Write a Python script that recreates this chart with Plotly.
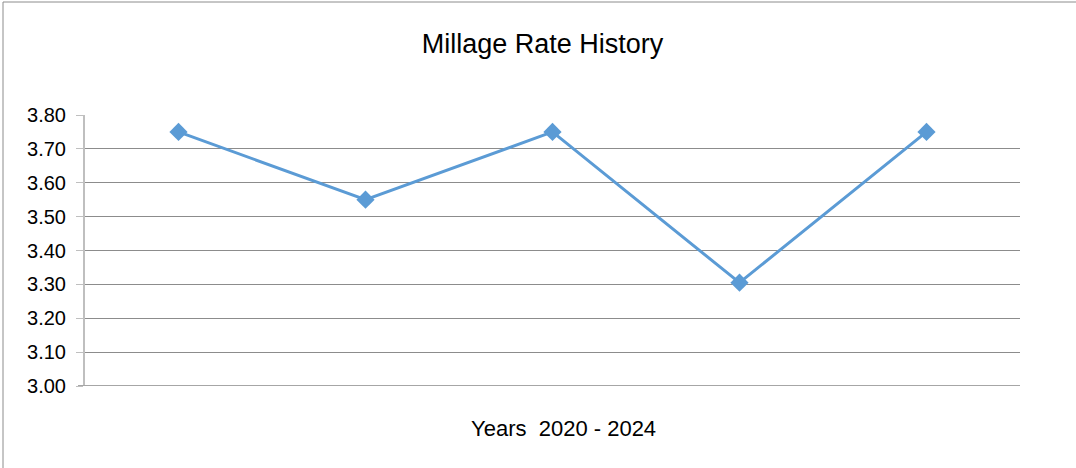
import plotly.graph_objects as go

years = ["2020", "2021", "2022", "2023", "2024"]
rates = [3.75, 3.55, 3.75, 3.305, 3.75]
y_ticks = [3.00, 3.10, 3.20, 3.30, 3.40, 3.50, 3.60, 3.70, 3.80]

W, H = 1076, 468
L, R, T, B = 85, 56, 115, 82
pw, ph = W - L - R, H - T - B

fig = go.Figure()
fig.add_trace(go.Scatter(
    x=years, y=rates, mode="lines+markers",
    line=dict(color="#5B9BD5", width=3),
    marker=dict(symbol="diamond", size=14, color="#5B9BD5"),
    hoverinfo="x+y", showlegend=False,
))

fig.update_layout(
    width=W, height=H,
    margin=dict(l=L, r=R, t=T, b=B),
    paper_bgcolor="white", plot_bgcolor="white",
    font=dict(family="Liberation Sans, Arial, sans-serif", color="#000000"),
    title=dict(text="Millage Rate History", x=542.5 / W, xanchor="center",
               y=1 - 44 / H, yanchor="middle",
               font=dict(size=27, color="#000000")),
    xaxis=dict(
        type="category", range=[-0.5, len(years) - 0.5],
        showticklabels=False, ticks="",
        showgrid=False, showline=False, zeroline=False,
    ),
    yaxis=dict(
        range=[3.0, 3.8], tickvals=y_ticks,
        ticktext=[f"{v:.2f}" for v in y_ticks],
        tickfont=dict(size=20),
        showgrid=True, gridcolor="#8C8C8C", gridwidth=1,
        showline=True, linecolor="#BFBFBF", linewidth=2,
        ticks="outside", ticklen=7, tickcolor="#BFBFBF", tickwidth=1,
        zeroline=False, ticklabelstandoff=6,
    ),
    annotations=[
        dict(text="Years  2020 - 2024", xref="paper", yref="paper",
             x=(563 - L) / pw, y=-(428 - T - ph) / ph,
             xanchor="center", yanchor="middle", showarrow=False,
             font=dict(size=22, color="#000000")),
    ],
    shapes=[
        dict(type="line", xref="paper", yref="y", x0=-7 / pw, x1=1, y0=3.0, y1=3.0,
             line=dict(color="#A6A6A6", width=2)),
        dict(type="rect", xref="paper", yref="paper",
             x0=(3 - L) / pw, x1=(W + 10 - L) / pw,
             y0=-(H + 10 - T - ph) / ph, y1=(T - 2) / ph + 1,
             line=dict(color="#8C8C8C", width=1), fillcolor="rgba(0,0,0,0)",
             layer="below"),
    ],
)

fig.write_html("out.html", config={"displayModeBar": False},
               post_script="document.body.style.margin='0';")
